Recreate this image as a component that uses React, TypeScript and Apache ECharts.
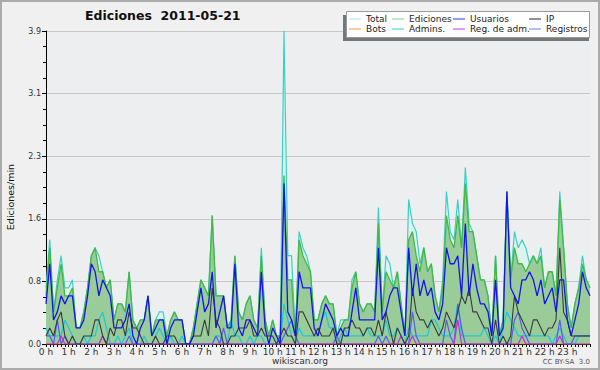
import React, { useEffect, useRef } from "react";
import * as echarts from "echarts";

const HOUR_LABELS = ["0 h","1 h","2 h","3 h","4 h","5 h","6 h","7 h","8 h","9 h","10 h","11 h","12 h","13 h","14 h","15 h","16 h","17 h","18 h","19 h","20 h","21 h","22 h","23 h","24 h"];
const SLOTS = Array.from({ length: 145 }, (_, i) => `${Math.floor(i / 6)}:${(i % 6) * 10}`);

const TOTAL = [
  0.7,1.3,0.4,0.8,1.1,0.7, 0.7,0.8,0.2,0.2,0.4,0.7, 1.1,1.2,1.1,0.9,0.7,0.8, 0.3,0.5,0.5,0.4,0.9,0.3,
  0.2,0.3,0.3,0.6,0.1,0.3, 0.4,0.4,0.1,0.3,0.4,0.3, 0.3,0,0,0.2,0.5,0.8, 0.7,0.6,1.6,0.6,0.6,0.6,
  0.2,0.3,1.1,0.4,0.3,0.5, 0.6,0.3,0.2,1.2,0.3,0.1, 0.3,0.1,0.1,3.9,1.1,1.1, 0.1,1.4,1.2,1.1,0.9,0.3,
  0.3,0.5,0.6,0.5,0.5,0.1, 0.3,0.3,0.3,0.8,0.9,0.5, 0.4,0.5,0.5,0.4,1.7,0.4, 1.1,1.0,0.7,0.9,0.5,0.1,
  1.8,1.5,1.4,1.0,1.2,0.9, 1.0,0.6,0.4,0.8,1.9,1.4, 1.3,1.8,1.2,2.2,1.5,1.4, 1.1,0.8,0.8,0.6,0.1,1.1,
  0.1,0.3,1.9,0.8,1.4,1.2, 1.3,1.2,1.0,1.1,1.0,1.2, 0.7,0.9,0.9,0.6,1.9,1.2, 0.5,0.2,0.5,0.7,1.1,0.8,
  0.7
];
const EDICIONES = [
  0.6,1.2,0.4,0.7,1.0,0.6, 0.6,0.7,0.2,0.2,0.4,0.7, 1.1,1.2,0.9,0.9,0.7,0.8, 0.3,0.5,0.5,0.4,0.9,0.3,
  0.2,0.3,0.3,0.6,0.1,0.3, 0.3,0.3,0.1,0.3,0.4,0.3, 0.3,0,0,0.2,0.5,0.8, 0.7,0.6,1.6,0.6,0.6,0.6,
  0.2,0.3,1.1,0.4,0.3,0.5, 0.6,0.3,0.2,1.1,0.3,0.1, 0.3,0.1,0.1,2.1,0.8,0.8, 0.1,1.3,1.1,1.0,0.9,0.3,
  0.3,0.5,0.6,0.5,0.5,0.1, 0.2,0.3,0.3,0.7,0.9,0.5, 0.4,0.5,0.5,0.4,1.5,0.4, 0.9,0.8,0.7,0.9,0.5,0.1,
  1.3,1.4,1.1,0.9,1.2,0.9, 1.0,0.6,0.4,0.7,1.6,1.3, 1.2,1.6,1.2,2.0,1.4,1.4, 1.1,0.8,0.8,0.6,0.1,1.1,
  0.1,0.3,1.9,0.8,1.2,1.0, 1.0,0.9,1.0,1.1,1.0,1.1, 0.7,0.9,0.9,0.6,1.8,1.2, 0.5,0.2,0.5,0.7,1.0,0.8,
  0.7
];
const USUARIOS = [
  0.5,1.0,0.3,0.4,0.6,0.5, 0.6,0.6,0.2,0.2,0.3,0.6, 1.0,0.9,0.6,0.8,0.7,0.6, 0.2,0.2,0.2,0.3,0.5,0.1,
  0,0.2,0.3,0.6,0.1,0.2, 0.3,0.3,0,0.2,0.3,0.3, 0.3,0,0,0.1,0.4,0.7, 0.4,0.5,0.9,0.2,0.4,0.6,
  0.2,0.2,1.0,0.2,0.1,0.3, 0.3,0.2,0.1,0.9,0.2,0, 0.2,0.1,0,2.0,0.4,0.3, 0.1,0.9,0.7,0.7,0.7,0.2,
  0.1,0.3,0.5,0.4,0.3,0.1, 0.2,0.1,0.1,0.4,0.7,0.3, 0.3,0.3,0.3,0.3,1.2,0.3, 0.4,0.6,0.7,0.7,0.4,0.1,
  1.2,0.6,1.0,0.6,0.8,0.6, 0.7,0.4,0.3,0.5,1.2,1.0, 1.0,1.1,0.6,1.5,0.6,1.0, 0.7,0.5,0.5,0.4,0.1,0.8,
  0.1,0.2,1.9,0.7,0.6,0.5, 0.8,0.8,0.9,0.8,0.6,0.8, 0.5,0.6,0.7,0.4,0.8,0.8, 0.3,0.1,0.3,0.5,0.9,0.7,
  0.6
];
const IP = [
  0.1,0.2,0.1,0.3,0.4,0.1, 0,0.1,0,0,0.1,0.1, 0.1,0.3,0.3,0.1,0,0.2, 0.1,0.3,0.3,0.1,0.4,0.2,
  0.2,0.1,0,0,0,0.1, 0,0,0.1,0.1,0.1,0, 0,0,0,0.1,0.1,0.1, 0.3,0.1,0.7,0.3,0.2,0,
  0,0.1,0.1,0.2,0.2,0.2, 0.3,0.1,0.1,0.2,0.1,0.1, 0.1,0,0.1,0.2,0.1,0.1, 0,0.4,0.4,0.3,0.2,0.1,
  0.2,0.1,0.1,0.1,0.2,0, 0,0.2,0.2,0.3,0.2,0.2, 0.1,0.2,0.2,0.1,0.3,0.1, 0.4,0.2,0,0.2,0.1,0,
  0.1,0.7,0.4,0.3,0.3,0.2, 0.3,0.2,0.1,0.2,0.4,0.3, 0.2,0.4,0.6,0.5,0.7,0.4, 0.4,0.3,0.2,0.2,0,0.3,
  0,0.1,0,0.1,0.6,0.4, 0.3,0.2,0.1,0.3,0.3,0.2, 0.1,0.2,0.2,0.3,1.2,0.4, 0.3,0.1,0.1,0.1,0.1,0.1,
  0.1
];
const BOTS = [
  0,0,0,0,0,0, 0,0,0,0,0,0, 0,0,0,0,0,0, 0,0,0,0,0,0,
  0,0,0,0,0,0, 0,0,0,0,0,0, 0,0,0,0,0,0, 0,0,0,0,0,0,
  0,0,0,0,0,0, 0,0,0,0,0,0, 0,0,0,0,0,0, 0,0,0,0,0,0,
  0,0,0,0,0,0, 0,0,0,0,0,0, 0,0,0,0,0,0, 0,0,0,0,0,0,
  0,0,0,0,0,0, 0,0,0,0,0,0, 0,0,0,0,0,0, 0,0,0,0,0,0,
  0,0,0,0,0,0, 0,0,0,0,0,0, 0,0,0,0,0,0, 0,0,0,0,0,0,
  0
];
const ADMINS = [
  0.2,0.1,0.1,0.1,0.1,0.3, 0.2,0.1,0,0,0.1,0, 0.1,0.1,0.3,0.4,0.2,0, 0,0.1,0,0.1,0.2,0,
  0,0,0.1,0,0,0.1, 0.2,0.1,0,0.1,0,0, 0.1,0,0,0,0,0, 0,0,0,0.1,0.1,0,
  0,0.3,0.1,0.1,0,0, 0.1,0,0.1,0.1,0,0, 0,0,0,0.5,0.3,0.1, 0,0.2,0.1,0.1,0.1,0.1,
  0.1,0.3,0.4,0.2,0.2,0, 0.1,0.2,0.1,0.1,0.1,0.1, 0.1,0.2,0.1,0.1,0.1,0.1, 0.3,0.1,0.1,0.2,0.1,0,
  0.2,0.1,0.1,0.1,0.1,0.1, 0.3,0.3,0.2,0.1,0.1,0.1, 0.2,0.5,0.1,0.1,0.1,0.1, 0.1,0.1,0.2,0.1,0,0.1,
  0,0.2,0.4,0.3,0.2,0.1, 0.1,0.1,0.1,0.1,0.1,0.1, 0.1,0.1,0,0.1,0.2,0.1, 0,0,0,0.1,0.1,0.1,
  0.1
];
const REG_ADM = [
  0,0,0,0,0.1,0, 0,0,0,0,0,0, 0,0,0,0.1,0,0, 0,0,0,0,0,0,
  0,0,0,0,0,0, 0,0,0,0,0,0, 0,0,0,0,0,0, 0,0,0,0,0,0,
  0,0,0,0,0,0, 0,0,0,0,0,0, 0,0,0,0,0,0, 0,0,0,0,0,0,
  0,0,0,0,0,0, 0,0,0,0,0,0, 0,0,0,0,0,0, 0,0,0,0,0.1,0,
  0,0.1,0,0,0,0, 0,0,0,0,0,0, 0,0.3,0,0,0,0, 0,0,0,0,0,0,
  0,0,0,0,0,0, 0.1,0,0,0,0,0, 0,0,0,0,0.1,0, 0,0,0,0,0,0,
  0
];
const REGISTROS = [
  0.1,0.1,0,0.3,0,0.1, 0,0,0,0,0,0, 0,0,0,0.1,0,0, 0,0,0,0,0.1,0,
  0,0,0,0,0,0, 0,0,0,0,0,0, 0,0,0,0,0,0, 0,0,0,0.1,0,0.2,
  0,0,0,0,0,0, 0,0,0,0,0,0, 0,0,0,0.1,0.2,0.3, 0.1,0,0,0,0,0,
  0,0,0,0,0,0.1, 0,0,0,0,0,0, 0,0,0,0,0.1,0, 0.1,0,0,0,0,0,
  0,0.4,0.1,0,0,0, 0,0,0,0,0.3,0.1, 0,0.5,0.2,0,0,0, 0,0,0,0,0,0,
  0,0,0,0,0.3,0.4, 0.2,0.1,0,0,0,0, 0,0,0,0,0.3,0, 0,0,0.1,0.1,0.1,0.1,
  0.1
];

const FONT = "DejaVu Sans";

export default function App() {
  const ref = useRef<HTMLDivElement>(null);
  useEffect(() => {
    const chart = echarts.init(ref.current!, null, { renderer: "svg" });
    const line = (name: string, data: number[], color: string, width = 1.2, area?: string) => ({
      name,
      type: "line",
      data,
      symbol: "none",
      lineStyle: { color, width },
      itemStyle: { color },
      areaStyle: area ? { color: area, opacity: 1 } : undefined,
      emphasis: { disabled: true },
      silent: true,
    });
    const legendBase = {
      orient: "vertical",
      top: 14,
      padding: 0,
      itemGap: 0,
      itemWidth: 12,
      itemHeight: 1,
      icon: "rect",
      selectedMode: false,
      z: 20,
      textStyle: { fontFamily: FONT, fontSize: 9, color: "#222", lineHeight: 10 },
    };
    chart.setOption({
      animation: false,
      backgroundColor: "#f0f0f0",
      title: {
        text: "Ediciones  2011-05-21",
        left: 85,
        top: 9,
        padding: 0,
        textStyle: { fontFamily: FONT, fontSize: 12.5, fontWeight: "bold", color: "#111" },
      },
      legend: [
        { ...legendBase, left: 349, data: [{ name: "Total", itemStyle: { color: "#a8e4e0" } }, { name: "Bots", itemStyle: { color: "#ff9933" } }] },
        { ...legendBase, left: 392, data: [{ name: "Ediciones", itemStyle: { color: "#88cc88" } }, { name: "Admins.", itemStyle: { color: "#33ccdd" } }] },
        { ...legendBase, left: 453, data: [{ name: "Usuarios", itemStyle: { color: "#3333dd" } }, { name: "Reg. de adm.", itemStyle: { color: "#cc33dd" } }] },
        { ...legendBase, left: 529, data: [{ name: "IP", itemStyle: { color: "#222222" } }, { name: "Registros", itemStyle: { color: "#7777ee" } }] },
      ],
      grid: { left: 46, right: 10, top: 31, bottom: 26, show: true, backgroundColor: "#edeef0", borderWidth: 0 },
      xAxis: {
        type: "category",
        data: SLOTS,
        boundaryGap: false,
        axisLine: { lineStyle: { color: "#000", width: 1 } },
        axisTick: { show: true, interval: 0, length: 3, lineStyle: { color: "#000" } },
        axisLabel: {
          interval: (i: number) => i % 6 === 0 && i < 144,
          formatter: (_v: string, i: number) => HOUR_LABELS[Math.floor(i / 6)],
          fontFamily: FONT,
          fontSize: 9,
          color: "#333",
          margin: 3,
        },
        splitLine: { show: false },
      },
      yAxis: {
        type: "value",
        min: 0,
        max: 3.9,
        interval: 0.78,
        axisLine: { show: true, lineStyle: { color: "#000", width: 1 } },
        axisTick: { show: true, length: 4, lineStyle: { color: "#000" } },
        minorTick: { show: true, splitNumber: 4, length: 3, lineStyle: { color: "#000" } },
        axisLabel: {
          formatter: (v: number) => v.toFixed(1),
          fontFamily: FONT,
          fontSize: 8,
          color: "#333",
          margin: 5,
        },
        splitLine: { show: true, lineStyle: { color: "#c8c8c8", width: 1 } },
      },
      series: [
        line("Total", TOTAL, "#3cd0c4", 1.2, "#dcf3ef"),
        line("Ediciones", EDICIONES, "#44b844", 1.3, "#99cc99"),
        line("Bots", BOTS, "#ff9933", 1),
        line("Admins.", ADMINS, "#18c8dc", 1.2),
        line("Registros", REGISTROS, "#5a5af0", 1.2),
        line("Reg. de adm.", REG_ADM, "#c030d0", 1.2),
        line("IP", IP, "#3a3a3a", 1.1),
        line("Usuarios", USUARIOS, "#1515e8", 1.3),
      ],
      graphic: [
        { type: "rect", z: 10, silent: true, shape: { x: 343, y: 15, width: 246, height: 26 }, style: { fill: "#777" } },
        { type: "rect", z: 11, silent: true, shape: { x: 346.5, y: 11.5, width: 243, height: 26 }, style: { fill: "#ffffff", stroke: "#999", lineWidth: 1 } },
        {
          type: "text", x: 10, y: 197, rotation: Math.PI / 2, silent: true,
          style: { text: "Ediciones/min", fontFamily: FONT, fontSize: 9.5, fill: "#111", align: "center", verticalAlign: "middle" },
        },
        {
          type: "text", x: 300, y: 361, silent: true,
          style: { text: "wikiscan.org", fontFamily: FONT, fontSize: 9, fill: "#333", align: "center", verticalAlign: "middle" },
        },
        {
          type: "text", x: 590, y: 362, silent: true,
          style: { text: "CC BY-SA  3.0", fontFamily: FONT, fontSize: 7, fill: "#555", align: "right", verticalAlign: "middle" },
        },
        { type: "rect", z: 100, silent: true, shape: { x: 1, y: 1, width: 598, height: 368 }, style: { fill: "none", stroke: "#ababab", lineWidth: 2 } },
      ],
    });
    return () => chart.dispose();
  }, []);
  return <div ref={ref} style={{ position: "fixed", left: 0, top: 0, width: 600, height: 370 }} />;
}
